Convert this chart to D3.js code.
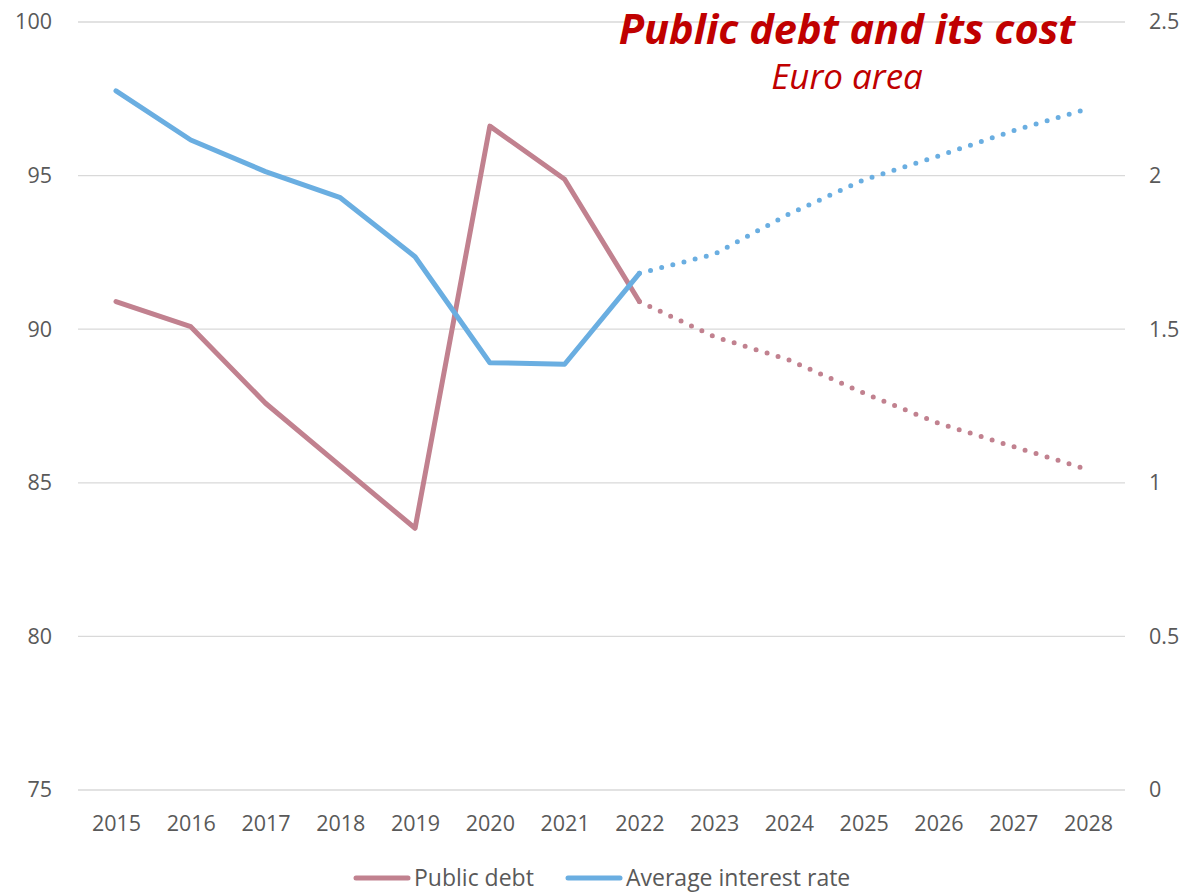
<!DOCTYPE html>
<html>
<head>
<meta charset="utf-8">
<script src="https://cdn.jsdelivr.net/npm/d3@7"></script>
<style>
  html, body { margin: 0; padding: 0; background: #fff; }
  svg { display: block; }
  text { font-family: "Open Sans", "Noto Sans", sans-serif; }
</style>
</head>
<body>
<svg id="chart" width="1186" height="893"></svg>
<script>
// Years on the category axis
const years = [2015, 2016, 2017, 2018, 2019, 2020, 2021, 2022, 2023, 2024, 2025, 2026, 2027, 2028];
// Public debt, % of GDP (left axis)
const publicDebt = [90.9, 90.08, 87.59, 85.55, 83.52, 96.61, 94.88, 90.9, 89.76, 89.0, 87.92, 86.94, 86.18, 85.43];
// Average interest rate on debt, % (right axis)
const interestRate = [2.276, 2.116, 2.013, 1.928, 1.736, 1.391, 1.386, 1.682, 1.744, 1.875, 1.986, 2.064, 2.146, 2.218];
// First projected year: solid up to it, dotted from it onward
const projectionStart = 2022;
const leftTicks = [75, 80, 85, 90, 95, 100];
const rightTicks = [0, 0.5, 1, 1.5, 2, 2.5];

const debtColor = "#C1818F";
const rateColor = "#6AAEE1";
const labelColor = "#595959";
const tickFont = "21.5px";

const svg = d3.select("#chart");
const plot = { left: 78, right: 1125, top: 22, bottom: 790 };

const x = d3.scalePoint().domain(years).range([116, 1088]);
const yLeft = d3.scaleLinear().domain([75, 100]).range([plot.bottom, plot.top]);
const yRight = d3.scaleLinear().domain([0, 2.5]).range([plot.bottom, plot.top]);

// Horizontal gridlines
svg.append("g")
  .selectAll("line")
  .data(leftTicks)
  .join("line")
  .attr("x1", plot.left).attr("x2", plot.right)
  .attr("y1", d => yLeft(d)).attr("y2", d => yLeft(d))
  .attr("stroke", "#D9D9D9").attr("stroke-width", 1.3);

// Left axis
const leftAxis = svg.append("g")
  .attr("transform", `translate(${plot.left - 26},0)`)
  .call(d3.axisLeft(yLeft).tickValues(leftTicks).tickSize(0).tickPadding(0));
leftAxis.select(".domain").remove();
leftAxis.selectAll("text")
  .attr("fill", labelColor).style("font-size", tickFont)
  .style("font-family", "'Open Sans', sans-serif");

// Right axis
const rightAxis = svg.append("g")
  .attr("transform", `translate(${plot.right + 24},0)`)
  .call(d3.axisRight(yRight).tickValues(rightTicks).tickSize(0).tickPadding(0)
    .tickFormat(d => d3.format("")(d)));
rightAxis.select(".domain").remove();
rightAxis.selectAll("text")
  .attr("fill", labelColor).style("font-size", tickFont)
  .style("font-family", "'Open Sans', sans-serif");

// Category axis
const bottomAxis = svg.append("g")
  .attr("transform", `translate(0,${plot.bottom + 26})`)
  .call(d3.axisBottom(x).tickSize(0).tickPadding(0).tickFormat(d3.format("d")));
bottomAxis.select(".domain").remove();
bottomAxis.selectAll("text")
  .attr("fill", labelColor).style("font-size", tickFont)
  .style("font-family", "'Open Sans', sans-serif");

// Lines: solid for outturns, dotted for projections
function drawSeries(values, yScale, color) {
  const pts = years.map((yr, i) => ({ yr, v: values[i] }));
  const line = d3.line().x(d => x(d.yr)).y(d => yScale(d.v));
  svg.append("path")
    .datum(pts.filter(d => d.yr <= projectionStart))
    .attr("d", line)
    .attr("fill", "none").attr("stroke", color)
    .attr("stroke-width", 5).attr("stroke-linejoin", "round").attr("stroke-linecap", "round");
  svg.append("path")
    .datum(pts.filter(d => d.yr >= projectionStart))
    .attr("d", line)
    .attr("fill", "none").attr("stroke", color)
    .attr("stroke-width", 5).attr("stroke-linecap", "round")
    .attr("stroke-dasharray", "0 11.5");
}
drawSeries(publicDebt, yLeft, debtColor);
drawSeries(interestRate, yRight, rateColor);

// Title
svg.append("text")
  .attr("x", 847).attr("y", 44).attr("text-anchor", "middle")
  .attr("fill", "#C00000")
  .style("font-size", "41.5px").style("font-weight", "bold").style("font-style", "italic")
  .text("Public debt and its cost");
svg.append("text")
  .attr("x", 847).attr("y", 89).attr("text-anchor", "middle")
  .attr("fill", "#C00000")
  .style("font-size", "35px").style("font-style", "italic")
  .text("Euro area");

// Legend along the bottom edge
const legend = [
  { name: "Public debt", color: debtColor, x0: 356 },
  { name: "Average interest rate", color: rateColor, x0: 568 }
];
const lg = svg.append("g");
legend.forEach(d => {
  lg.append("line")
    .attr("x1", d.x0).attr("x2", d.x0 + 52)
    .attr("y1", 878).attr("y2", 878)
    .attr("stroke", d.color).attr("stroke-width", 5).attr("stroke-linecap", "round");
  lg.append("text")
    .attr("x", d.x0 + 58).attr("y", 886)
    .attr("fill", labelColor).style("font-size", "23px")
    .text(d.name);
});
</script>
</body>
</html>
